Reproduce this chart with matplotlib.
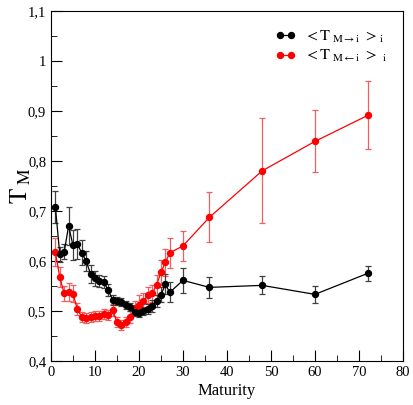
import matplotlib
matplotlib.use('Agg')
import matplotlib.pyplot as plt
from matplotlib.ticker import MultipleLocator, FuncFormatter
from matplotlib.lines import Line2D

plt.rcParams['font.family'] = ['Liberation Serif', 'DejaVu Serif']
plt.rcParams['mathtext.fontset'] = 'stix'

# maturity values
x_vals = list(range(1, 28)) + [30, 36, 48, 60, 72]

# <T M->i>_i  (black)
t_out = [0.707, 0.613, 0.618, 0.670, 0.631, 0.633, 0.616, 0.599, 0.574, 0.565,
         0.559, 0.557, 0.542, 0.522, 0.520, 0.517, 0.512, 0.507, 0.498, 0.496,
         0.500, 0.504, 0.510, 0.519, 0.532, 0.553, 0.537,
         0.561, 0.547, 0.551, 0.533, 0.575]
t_out_err = [0.032, 0.015, 0.015, 0.038, 0.030, 0.030, 0.025, 0.020, 0.018, 0.015,
             0.012, 0.012, 0.012, 0.010, 0.008, 0.008, 0.008, 0.008, 0.008, 0.008,
             0.008, 0.010, 0.012, 0.012, 0.015, 0.020, 0.020,
             0.025, 0.021, 0.018, 0.017, 0.015]

# <T M<-i>_i  (red)
t_in = [0.617, 0.567, 0.535, 0.538, 0.534, 0.503, 0.488, 0.486, 0.487, 0.490,
        0.490, 0.493, 0.491, 0.501, 0.478, 0.472, 0.477, 0.488, 0.505, 0.512,
        0.519, 0.532, 0.535, 0.552, 0.577, 0.597, 0.616,
        0.630, 0.687, 0.780, 0.839, 0.891]
t_in_err = [0.028, 0.020, 0.015, 0.018, 0.017, 0.012, 0.010, 0.010, 0.010, 0.010,
            0.010, 0.010, 0.010, 0.012, 0.010, 0.010, 0.010, 0.012, 0.015, 0.020,
            0.016, 0.016, 0.017, 0.020, 0.025, 0.027, 0.030,
            0.030, 0.050, 0.105, 0.062, 0.068]

fig = plt.figure(figsize=(4.13, 4.05), dpi=100)
ax = fig.add_axes([0.1235, 0.109, 0.852, 0.864])

ax.errorbar(x_vals, t_in, yerr=t_in_err, color='#ff0000', marker='o', ms=4.3,
            lw=0.9, ecolor='#f06060', elinewidth=0.9, capsize=2.5, capthick=0.9)
ax.errorbar(x_vals, t_out, yerr=t_out_err, color='black', marker='o', ms=4.3,
            lw=0.9, ecolor='#404040', elinewidth=0.9, capsize=2.5, capthick=0.9)

ax.set_xlim(0, 80)
ax.set_ylim(0.4, 1.1)
ax.xaxis.set_major_locator(MultipleLocator(10))
ax.xaxis.set_minor_locator(MultipleLocator(5))
ax.yaxis.set_major_locator(MultipleLocator(0.1))
ax.yaxis.set_minor_locator(MultipleLocator(0.05))
ax.yaxis.set_major_formatter(FuncFormatter(lambda v, p: ('%g' % round(v, 2)).replace('.', ',')))
ax.tick_params(which='major', direction='in', length=8, labelsize=10.5, top=False, right=False)
ax.tick_params(which='minor', direction='in', length=4, top=False, right=False)

ax.set_xlabel('Maturity', fontsize=12, labelpad=3)
ax.set_ylabel(r'$\mathrm{T}_{\ \mathrm{M}}$', fontsize=18, labelpad=-4)

handles = [Line2D([], [], color='black', marker='o', ms=4.3, lw=0.9),
           Line2D([], [], color='#ff0000', marker='o', ms=4.3, lw=0.9)]
labels = [r'$<\mathrm{T}_{\ \mathrm{M}\rightarrow\mathrm{i}}\ >_{\mathrm{i}}$',
          r'$<\mathrm{T}_{\ \mathrm{M}\leftarrow\mathrm{i}}\ >_{\ \mathrm{i}}$']
ax.legend(handles, labels, loc='upper right', bbox_to_anchor=(0.995, 0.99),
          frameon=False, numpoints=2, handlelength=1.3, fontsize=11.5,
          labelspacing=0.2, handletextpad=0.5)

fig.savefig('out.png', dpi=100)
